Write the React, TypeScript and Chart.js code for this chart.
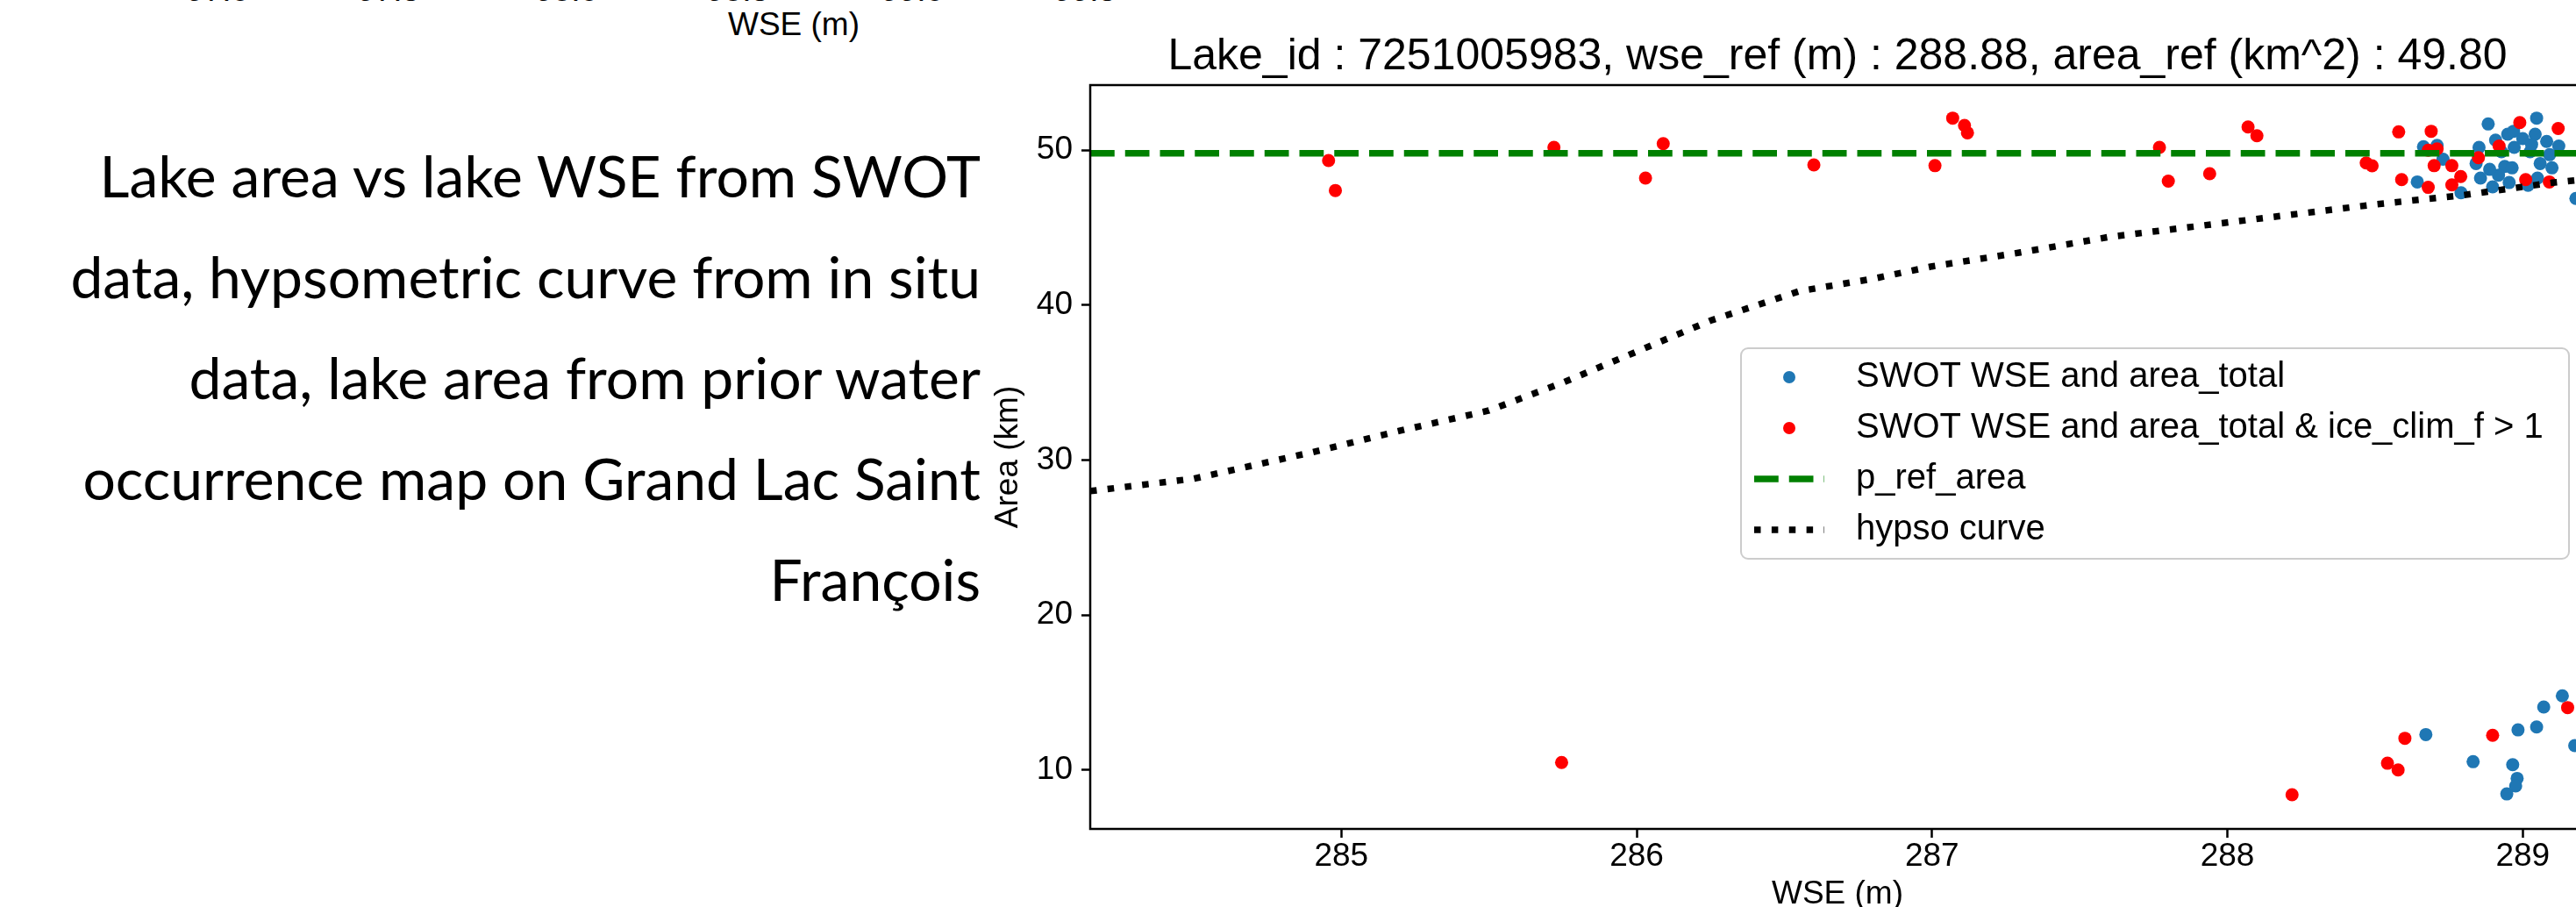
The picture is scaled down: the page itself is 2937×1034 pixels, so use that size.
import React, { useEffect, useRef } from "react";
import { Chart, registerables } from "chart.js";

Chart.register(...registerables);

// ---------------- data ----------------
const TITLE = "Lake_id : 7251005983, wse_ref (m) : 288.88, area_ref (km^2) : 49.80";
const CAPTION_LINES = [
  "Lake area vs lake WSE from SWOT",
  "data, hypsometric curve from in situ",
  "data, lake area from prior water",
  "occurrence map on Grand Lac Saint",
  "François",
];
const X_LABEL = "WSE (m)";
const Y_LABEL = "Area (km)";
const LEGEND_LABELS = [
  "SWOT WSE and area_total",
  "SWOT WSE and area_total & ice_clim_f > 1",
  "p_ref_area",
  "hypso curve",
];
const PREV_TICK_LABELS = ["97.0", "97.5", "98.0", "98.5", "99.0", "99.5"];

const X_TICKS = [285, 286, 287, 288, 289];
const Y_TICKS = [10, 20, 30, 40, 50];
const X_RANGE = [284.15, 289.21];
const Y_RANGE = [6.2, 54.2];

const P_REF_AREA = 49.8;

const SWOT_WSE = [
  288.643, 288.664, 288.71, 288.73, 288.791, 288.883, 289.047, 289.18, 288.852, 288.842,
  288.857, 288.898, 288.908, 288.928, 288.949, 288.939, 288.964, 288.969, 288.954, 288.918,
  288.888, 288.971, 289.0, 289.018, 289.025, 289.042, 289.05, 289.059, 289.081, 289.091,
  289.099, 289.122, 289.03,
  288.672, 288.832, 288.966, 288.981, 288.976, 288.946, 288.984, 289.047, 289.071, 289.134,
  289.176,
];
const SWOT_AREA = [
  47.95, 50.22, 50.31, 49.42, 47.25, 51.69, 52.07, 46.88, 50.18, 49.14,
  48.2, 47.63, 50.65, 49.9, 51.03, 48.95, 48.86, 51.22, 47.91, 48.39,
  48.76, 50.18, 50.75, 47.73, 49.9, 51.03, 48.2, 49.14, 50.56, 49.71,
  48.86, 50.27, 50.37,
  12.29, 10.54, 10.35, 9.46, 8.97, 8.46, 12.59, 12.78, 14.07, 14.79,
  11.58,
];

const ICE_WSE = [
  284.957, 284.98, 285.72, 285.746, 286.03, 286.09, 286.6, 287.01, 287.07, 287.11,
  287.12, 287.77, 287.8, 287.94, 288.07, 288.1, 288.219, 288.47, 288.49, 288.542,
  288.578, 288.58, 288.59, 288.601, 288.68, 288.69, 288.7, 288.71, 288.68, 288.76,
  288.79, 288.76, 288.85, 288.898, 288.92, 288.99, 289.01, 289.09, 289.12, 289.152,
];
const ICE_AREA = [
  49.33, 47.4, 50.18, 10.49, 48.2, 50.42, 49.05, 49.0, 52.07, 51.6,
  51.12, 50.18, 48.0, 48.48, 51.5, 50.93, 8.41, 49.18, 48.99, 10.44,
  10.01, 51.18, 48.1, 12.05, 50.0, 51.22, 49.0, 50.08, 47.6, 49.0,
  48.3, 47.76, 49.52, 12.24, 50.27, 51.78, 48.1, 47.95, 51.4, 14.03,
];

const HYPSO_WSE = [
  284.15, 284.5, 284.9, 285.2, 285.5, 285.75, 286.0, 286.25, 286.55, 286.8,
  287.0, 287.3, 287.6, 287.9, 288.2, 288.5, 288.8, 289.1, 289.25,
];
const HYPSO_AREA = [
  28.0, 28.8, 30.5, 31.9, 33.2, 35.0, 37.0, 39.0, 40.9, 41.7,
  42.5, 43.4, 44.4, 45.1, 45.8, 46.5, 47.1, 47.9, 48.2,
];

// ---------------- layout / style ----------------
const PAGE_W = 2937;
const PAGE_H = 1034;
const CANVAS_LEFT = 1120;
const CANVAS_W = 1840;
const CANVAS_H = 1070;
const PLOT_LEFT = 1243;
const PLOT_RIGHT = 2947;
const PLOT_TOP = 97;
const PLOT_BOTTOM = 945;

const FONT = "'Liberation Sans', Arial, sans-serif";
const BLUE = "#1f77b4";
const RED = "#ff0000";
const GREEN = "#008000";
const LW = 7.5;

const pts = (xs: number[], ys: number[]) => xs.map((x, i) => ({ x, y: ys[i] }));

const framePlugin = {
  id: "frame",
  afterDatasetsDraw(chart: any) {
    const { ctx, chartArea: a } = chart;
    ctx.save();
    ctx.strokeStyle = "#000";
    ctx.lineWidth = 2.5;
    ctx.strokeRect(a.left, a.top, a.right - a.left, a.bottom - a.top);
    ctx.restore();
  },
};

const titlePlugin = {
  id: "mplTitle",
  afterDraw(chart: any) {
    const { ctx, chartArea: a } = chart;
    ctx.save();
    ctx.fillStyle = "#000";
    ctx.font = `50px ${FONT}`;
    ctx.textAlign = "center";
    ctx.textBaseline = "middle";
    ctx.fillText(TITLE, (a.left + a.right) / 2, 65);
    ctx.restore();
  },
};

const legendPlugin = {
  id: "mplLegend",
  afterDraw(chart: any) {
    const ctx = chart.ctx;
    const ds = chart.data.datasets;
    const x0 = 1985 - CANVAS_LEFT;
    const x1 = 2929 - CANVAS_LEFT;
    const y0 = 397;
    const y1 = 637;
    ctx.save();
    ctx.beginPath();
    ctx.roundRect(x0, y0, x1 - x0, y1 - y0, 8);
    ctx.fillStyle = "rgba(255,255,255,0.8)";
    ctx.fill();
    ctx.lineWidth = 2;
    ctx.strokeStyle = "#cccccc";
    ctx.stroke();
    const rowY = [430, 488, 546, 604];
    const markX = 2040 - CANVAS_LEFT;
    const textX = 2116 - CANVAS_LEFT;
    ds.forEach((d: any, i: number) => {
      const y = rowY[i];
      if (d.showLine) {
        ctx.beginPath();
        ctx.setLineDash(d.borderDash || []);
        ctx.lineWidth = d.borderWidth;
        ctx.strokeStyle = d.borderColor;
        ctx.lineCap = "butt";
        ctx.moveTo(markX - 40, y);
        ctx.lineTo(markX + 40, y);
        ctx.stroke();
        ctx.setLineDash([]);
      } else {
        ctx.beginPath();
        ctx.arc(markX, y, 7, 0, Math.PI * 2);
        ctx.fillStyle = d.backgroundColor;
        ctx.fill();
      }
      ctx.fillStyle = "#000";
      ctx.font = `40px ${FONT}`;
      ctx.textAlign = "left";
      ctx.textBaseline = "middle";
      ctx.fillText(LEGEND_LABELS[i], textX, y);
    });
    ctx.restore();
  },
};

export default function App() {
  const ref = useRef<HTMLCanvasElement | null>(null);

  useEffect(() => {
    document.body.style.margin = "0";
    document.body.style.overflow = "hidden";
    if (!ref.current) return;
    const tickFont = { family: FONT, size: 37 };
    const chart = new Chart(ref.current, {
      type: "scatter",
      data: {
        datasets: [
          {
            label: LEGEND_LABELS[0],
            data: pts(SWOT_WSE, SWOT_AREA),
            backgroundColor: BLUE,
            borderColor: BLUE,
            borderWidth: 0,
            pointRadius: 7.5,
            order: 4,
          },
          {
            label: LEGEND_LABELS[1],
            data: pts(ICE_WSE, ICE_AREA),
            backgroundColor: RED,
            borderColor: RED,
            borderWidth: 0,
            pointRadius: 7.5,
            order: 3,
          },
          {
            label: LEGEND_LABELS[2],
            data: pts(X_RANGE, X_RANGE.map(() => P_REF_AREA)),
            showLine: true,
            borderColor: GREEN,
            backgroundColor: GREEN,
            borderWidth: LW,
            borderDash: [3.7 * LW, 1.6 * LW],
            pointRadius: 0,
            order: 2,
            clip: 0,
          },
          {
            label: LEGEND_LABELS[3],
            data: pts(HYPSO_WSE, HYPSO_AREA),
            showLine: true,
            borderColor: "#000",
            backgroundColor: "#000",
            borderWidth: LW,
            borderDash: [LW, 1.65 * LW],
            borderCapStyle: "butt",
            pointRadius: 0,
            tension: 0,
            order: 1,
            clip: 0,
          },
        ] as any,
      },
      options: {
        animation: false,
        responsive: false,
        devicePixelRatio: 1,
        layout: {
          padding: { top: PLOT_TOP, right: CANVAS_LEFT + CANVAS_W - PLOT_RIGHT, left: 0, bottom: 0 },
        },
        plugins: {
          legend: { display: false },
          tooltip: { enabled: false },
          title: { display: false },
        },
        scales: {
          x: {
            type: "linear",
            min: X_RANGE[0],
            max: X_RANGE[1],
            afterBuildTicks: (s: any) => {
              s.ticks = X_TICKS.map((v) => ({ value: v }));
            },
            afterFit: (s: any) => {
              s.height = CANVAS_H - PLOT_BOTTOM;
            },
            grid: {
              display: true,
              drawOnChartArea: false,
              drawTicks: true,
              tickLength: 10,
              tickColor: "#000",
              tickWidth: 2.5,
            },
            border: { display: false },
            ticks: {
              color: "#000",
              font: tickFont,
              padding: 0,
              maxRotation: 0,
              autoSkip: false,
              callback: (v: any) => String(v),
            },
            title: {
              display: true,
              text: X_LABEL,
              color: "#000",
              font: { family: FONT, size: 37 },
              padding: { top: 0, bottom: 28 },
            },
          },
          y: {
            type: "linear",
            min: Y_RANGE[0],
            max: Y_RANGE[1],
            afterBuildTicks: (s: any) => {
              s.ticks = Y_TICKS.map((v) => ({ value: v }));
            },
            afterFit: (s: any) => {
              s.width = PLOT_LEFT - CANVAS_LEFT;
            },
            grid: {
              display: true,
              drawOnChartArea: false,
              drawTicks: true,
              tickLength: 10,
              tickColor: "#000",
              tickWidth: 2.5,
            },
            border: { display: false },
            ticks: {
              color: "#000",
              font: tickFont,
              padding: 10,
              autoSkip: false,
              callback: (v: any) => String(v),
            },
            title: {
              display: true,
              text: Y_LABEL,
              color: "#000",
              font: { family: FONT, size: 37 },
              padding: { top: 8, bottom: 0 },
            },
          },
        },
      },
      plugins: [framePlugin, titlePlugin, legendPlugin],
    });
    return () => chart.destroy();
  }, []);

  const prevCenters = [248, 443, 646, 841, 1040, 1237];

  return (
    <div
      style={{
        position: "relative",
        width: PAGE_W,
        height: PAGE_H,
        overflow: "hidden",
        background: "#fff",
      }}
    >
      {PREV_TICK_LABELS.map((t, i) => (
        <div
          key={t}
          style={{
            position: "absolute",
            left: prevCenters[i] - 60,
            width: 120,
            top: -30,
            textAlign: "center",
            fontFamily: FONT,
            fontSize: 37,
            lineHeight: "37px",
            color: "#000",
          }}
        >
          {t}
        </div>
      ))}
      <div
        style={{
          position: "absolute",
          left: 905 - 150,
          width: 300,
          top: 6,
          textAlign: "center",
          fontFamily: FONT,
          fontSize: 37,
          lineHeight: "44px",
          color: "#000",
        }}
      >
        {X_LABEL}
      </div>
      <div
        style={{
          position: "absolute",
          left: 0,
          width: 1118,
          top: 142,
          textAlign: "right",
          fontFamily: "Lato, 'Open Sans', sans-serif",
          fontSize: 66,
          lineHeight: "115px",
          color: "#000",
          whiteSpace: "nowrap",
        }}
      >
        {CAPTION_LINES.map((l) => (
          <div key={l}>{l}</div>
        ))}
      </div>
      <canvas
        ref={ref}
        width={CANVAS_W}
        height={CANVAS_H}
        style={{
          position: "absolute",
          left: CANVAS_LEFT,
          top: 0,
          width: CANVAS_W,
          height: CANVAS_H,
        }}
      />
    </div>
  );
}
